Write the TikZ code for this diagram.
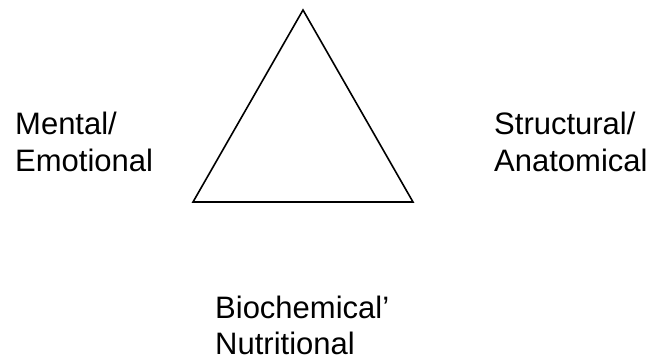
\documentclass[tikz,border=0pt]{standalone}
\usepackage{fontspec}
\setmainfont{Liberation Sans}
\begin{document}
\begin{tikzpicture}[x=1pt,y=-1pt,
  lbl/.style={anchor=north west,inner sep=0pt,align=left,font=\fontsize{31}{37}\selectfont}]
\useasboundingbox[fill=white] (0,0) rectangle (655,358);
\coordinate (top) at (303,10);
\coordinate (bl) at (193,202);
\coordinate (br) at (413,202);
\draw[line width=1.6pt,line join=miter] (top) -- (br) -- (bl) -- cycle;
\node[lbl] (mental) at (15,112) {Mental/\\Emotional};
\node[lbl] (struct) at (494,112) {Structural/\\Anatomical};
\node[lbl,font=\fontsize{31}{36}\selectfont,text depth=0pt] (bio) at (215,296) {Biochemical'\\Nutritional};
\end{tikzpicture}
\end{document}
